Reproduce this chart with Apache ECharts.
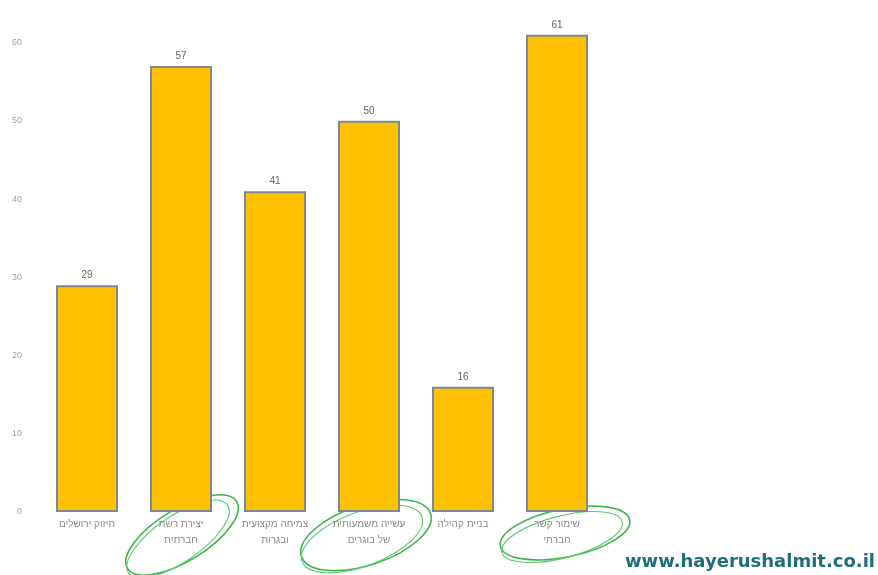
<!DOCTYPE html>
<html>
<head>
<meta charset="utf-8">
<script src="https://cdn.jsdelivr.net/npm/echarts@6/dist/echarts.min.js"></script>
<style>
html,body{margin:0;padding:0;background:#fff;}
#c{width:878px;height:575px;}
</style>
</head>
<body>
<div id="c"></div>
<script>
var categories = ["חיזוק ירושלים", "יצירת רשת\nחברתית", "צמיחה מקצועית\nובגרות", "עשייה משמעותית\nשל בוגרים", "בניית קהילה", "שימור קשר\nחברתי"];
var values = [29, 57, 41, 50, 16, 61];
var yTicks = [0, 10, 20, 30, 40, 50, 60];

var chart = echarts.init(document.getElementById('c'));
chart.setOption({
  animation: false,
  backgroundColor: '#fff',
  textStyle: {fontFamily: 'Liberation Sans, DejaVu Sans, sans-serif'},
  grid: {left: 40, right: 274, top: 27, bottom: 63, containLabel: false},
  xAxis: {
    type: 'category',
    data: categories,
    axisLine: {show: false},
    axisTick: {show: false},
    axisLabel: {interval: 0, color: '#8a8a8a', fontSize: 10, lineHeight: 16, margin: 4}
  },
  yAxis: {
    type: 'value',
    min: 0, max: 62, interval: 10,
    splitLine: {show: false},
    axisLine: {show: false},
    axisTick: {show: false},
    axisLabel: {
      color: '#a0a0a0', fontSize: 9, margin: 18, showMaxLabel: false,
      formatter: function (v) { return yTicks.indexOf(v) >= 0 ? String(v) : ''; }
    }
  },
  series: [{
    type: 'bar',
    data: values,
    barWidth: 62,
    itemStyle: {color: '#FFC000', borderColor: '#7d8a96', borderWidth: 2},
    label: {show: true, position: 'top', color: '#666', fontSize: 10, distance: 5}
  }],
  graphic: [
    {type: 'ellipse', shape: {cx: 0, cy: 0, rx: 64, ry: 26}, x: 182, y: 535, rotation: 0.55,
     style: {fill: 'none', stroke: '#3cb54a', lineWidth: 1.6}},
    {type: 'ellipse', shape: {cx: 0, cy: 0, rx: 60, ry: 23}, x: 178, y: 539, rotation: 0.6,
     style: {fill: 'none', stroke: '#5cc86a', lineWidth: 1.1}},
    {type: 'ellipse', shape: {cx: 0, cy: 0, rx: 68, ry: 30}, x: 366, y: 535, rotation: 0.32,
     style: {fill: 'none', stroke: '#3cb54a', lineWidth: 1.6}},
    {type: 'ellipse', shape: {cx: 0, cy: 0, rx: 64, ry: 27}, x: 362, y: 539, rotation: 0.36,
     style: {fill: 'none', stroke: '#5cc86a', lineWidth: 1.1}},
    {type: 'ellipse', shape: {cx: 0, cy: 0, rx: 66, ry: 24}, x: 565, y: 533, rotation: 0.2,
     style: {fill: 'none', stroke: '#3cb54a', lineWidth: 1.6}},
    {type: 'ellipse', shape: {cx: 0, cy: 0, rx: 62, ry: 21}, x: 562, y: 537, rotation: 0.25,
     style: {fill: 'none', stroke: '#5cc86a', lineWidth: 1.1}},
    {type: 'text', right: 3, bottom: 4,
     style: {text: 'www.hayerushalmit.co.il', fill: '#1d6f7c', font: 'bold 18px "DejaVu Sans", sans-serif'}}
  ]
});
</script>
</body>
</html>
